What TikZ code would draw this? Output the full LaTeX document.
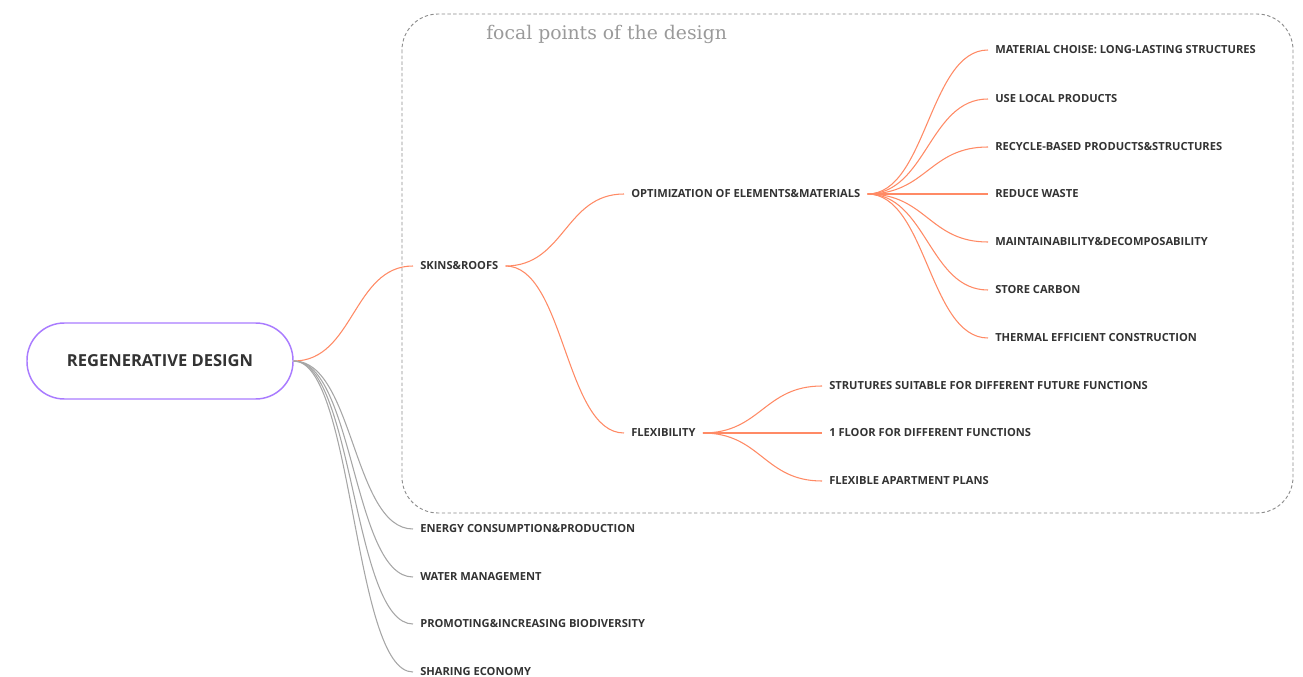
\documentclass[tikz,border=0pt]{standalone}
\usepackage{fontspec}
\setmainfont{Open Sans}
\newfontfamily\titlefont{DejaVu Serif}
\definecolor{linkor}{HTML}{FF8A65}
\definecolor{linkgr}{HTML}{A6A6A6}
\definecolor{rootbd}{HTML}{A97BFF}
\definecolor{txt}{HTML}{333333}
\definecolor{boxgr}{HTML}{8C8C8C}
\definecolor{ttlgr}{HTML}{9A9A9A}
\begin{document}
\begin{tikzpicture}[x=0.75pt,y=-0.75pt,
  lbl/.style={anchor=west,inner xsep=5.25pt,inner ysep=2pt,font=\fontsize{8.35}{10}\selectfont\bfseries,text=txt},
  orl/.style={draw=linkor,line width=0.8pt},
  grl/.style={draw=linkgr,line width=0.8pt},
  rootbox/.style={draw=rootbd,line width=1.1pt,rounded corners=28pt,minimum width=199.5pt,minimum height=57pt,text=txt,fill=white}]
\useasboundingbox (0,0) rectangle (1303,677);
% dashed region
\draw[boxgr,line width=0.7pt,dash pattern=on 2.5pt off 1.8pt,rounded corners=27pt] (402,14) rectangle (1293,513);
\node[anchor=base west,inner sep=0pt,font=\titlefont\fontsize{14.1}{16}\selectfont,text=ttlgr] (ttl) at (486,39.5) {focal points of the design};
% nodes
\node[rootbox] (root) at (160,361) {\fontsize{12.4}{14}\selectfont\bfseries REGENERATIVE DESIGN};
\node[lbl] (skins) at (413,266) {SKINS\&ROOFS};
\node[lbl] (energy) at (413,529) {ENERGY CONSUMPTION\&PRODUCTION};
\node[lbl] (water) at (413,577) {WATER MANAGEMENT};
\node[lbl] (bio) at (413,624) {PROMOTING\&INCREASING BIODIVERSITY};
\node[lbl] (share) at (413,672) {SHARING ECONOMY};
\node[lbl] (opt) at (624,194) {OPTIMIZATION OF ELEMENTS\&MATERIALS};
\node[lbl] (flex) at (624,433) {FLEXIBILITY};
\node[lbl] (m1) at (988,50) {MATERIAL CHOISE: LONG-LASTING STRUCTURES};
\node[lbl] (m2) at (988,99) {USE LOCAL PRODUCTS};
\node[lbl] (m3) at (988,147) {RECYCLE-BASED PRODUCTS\&STRUCTURES};
\node[lbl] (m4) at (988,194) {REDUCE WASTE};
\node[lbl] (m5) at (988,242) {MAINTAINABILITY\&DECOMPOSABILITY};
\node[lbl] (m6) at (988,290) {STORE CARBON};
\node[lbl] (m7) at (988,338) {THERMAL EFFICIENT CONSTRUCTION};
\node[lbl] (f1) at (822,386) {STRUTURES SUITABLE FOR DIFFERENT FUTURE FUNCTIONS};
\node[lbl] (f2) at (822,433) {1 FLOOR FOR DIFFERENT FUNCTIONS};
\node[lbl] (f3) at (822,481) {FLEXIBLE APARTMENT PLANS};
% connectors
\draw[orl] (root.east) .. controls +(60,0) and +(-60,0) .. (skins.west);
\foreach \t in {energy,water,bio,share}
  \draw[grl] (root.east) .. controls +(60,0) and +(-60,0) .. (\t.west);
\foreach \t in {opt,flex}
  \draw[orl] (skins.east) .. controls +(59,0) and +(-59,0) .. (\t.west);
\foreach \t in {m1,m2,m3,m4,m5,m6,m7}
  \draw[orl] (opt.east) .. controls +(59,0) and +(-59,0) .. (\t.west);
\foreach \t in {f1,f2,f3}
  \draw[orl] (flex.east) .. controls +(58,0) and +(-58,0) .. (\t.west);
\end{tikzpicture}
\end{document}
